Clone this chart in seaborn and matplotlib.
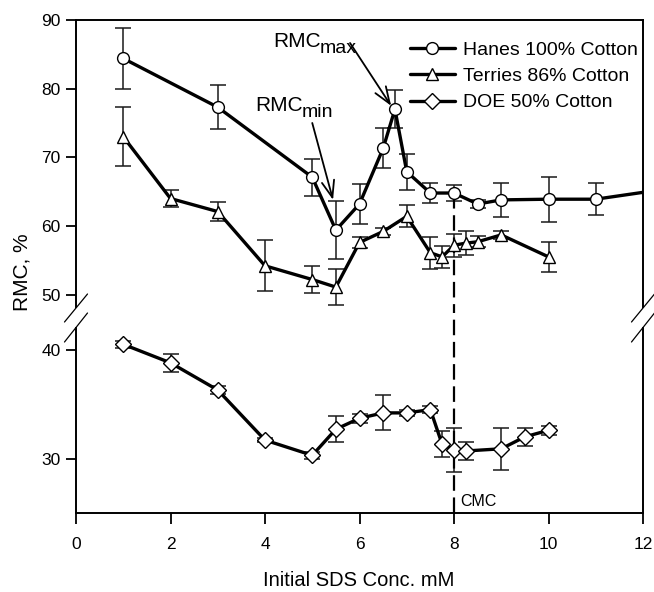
import matplotlib
matplotlib.use("Agg")
import matplotlib.pyplot as plt
import seaborn as sns
import pandas as pd
from matplotlib.lines import Line2D

# ---------------- data ----------------
hanes_x = [1, 3, 5, 5.5, 6, 6.5, 6.75, 7, 7.5, 8, 8.5, 9, 10, 11, 12]
hanes_y = [84.4, 77.3, 67.1, 59.4, 63.2, 71.3, 77.0, 67.9, 64.8, 64.8, 63.2, 63.8, 63.9, 63.9, 64.9]
hanes_err = [4.5, 3.2, 2.7, 4.2, 2.9, 2.9, 2.8, 2.6, 1.4, 1.2, 0.6, 2.5, 3.3, 2.3]

terries_x = [1, 2, 3, 4, 5, 5.5, 6, 6.5, 7, 7.5, 7.75, 8, 8.25, 8.5, 9, 10]
terries_y = [73.0, 64.0, 62.1, 54.2, 52.2, 51.1, 57.6, 59.2, 61.4, 56.1, 55.5, 57.2, 57.5, 57.7, 58.7, 55.5]
terries_err = [4.3, 1.2, 1.4, 3.7, 2.0, 2.6, 0.8, 0.5, 1.6, 2.3, 1.6, 1.7, 1.7, 0.8, 0.6, 2.2]

doe_x = [1, 2, 3, 4, 5, 5.5, 6, 6.5, 7, 7.5, 7.75, 8, 8.25, 9, 9.5, 10]
doe_y = [40.5, 38.8, 36.3, 31.7, 30.3, 32.7, 33.7, 34.2, 34.2, 34.5, 31.3, 30.8, 30.7, 30.9, 32.0, 32.6]
doe_err = [0.3, 0.8, 0.4, 0.2, 0.3, 1.2, 0.4, 1.6, 0.3, 0.3, 1.2, 2.0, 0.8, 1.95, 0.8, 0.4]

labels = ["Hanes 100% Cotton", "Terries 86% Cotton", "DOE 50% Cotton"]
CMC = 8
x_ticks = [0, 2, 4, 6, 8, 10, 12]
upper_ticks = [50, 60, 70, 80, 90]
lower_ticks = [30, 40]

# ---------------- style ----------------
sns.set_theme(style="ticks")
plt.rcParams["font.family"] = ["Liberation Sans", "DejaVu Sans"]
plt.rcParams["axes.linewidth"] = 1.4
plt.rcParams["text.color"] = "black"

W, H = 654, 592
fig = plt.figure(figsize=(W / 100, H / 100), dpi=100)


def rect(l, t, r, b):
    return [l / W, 1 - b / H, (r - l) / W, (b - t) / H]


ax_top = fig.add_axes(rect(76, 20, 643, 307))
ax_bot = fig.add_axes(rect(76, 328, 643, 513))

LW = 2.4
MS = 8.5
common = dict(color="black", lw=LW, mfc="white", mec="black", mew=1.0,
              estimator=None, sort=False, legend=False)
ebar = dict(fmt="none", ecolor="#1a1a1a", elinewidth=1.1, capsize=5.5, capthick=1.1, zorder=1)

# Hanes (line runs to the right edge; last point has no marker)
dfh = pd.DataFrame({"x": hanes_x, "y": hanes_y})
sns.lineplot(data=dfh, x="x", y="y", ax=ax_top, marker="o", ms=MS,
             markevery=slice(0, len(hanes_x) - 1), zorder=3, **common)
ax_top.errorbar(hanes_x[:len(hanes_err)], hanes_y[:len(hanes_err)], yerr=hanes_err, **ebar)

dft = pd.DataFrame({"x": terries_x, "y": terries_y})
sns.lineplot(data=dft, x="x", y="y", ax=ax_top, marker="^", ms=MS + 0.5, zorder=3, **common)
ax_top.errorbar(terries_x, terries_y, yerr=terries_err, **ebar)

dfd = pd.DataFrame({"x": doe_x, "y": doe_y})
sns.lineplot(data=dfd, x="x", y="y", ax=ax_bot, marker="D", ms=MS - 0.3, zorder=3, **common)
ax_bot.errorbar(doe_x, doe_y, yerr=doe_err, **ebar)

# limits / ticks
for ax in (ax_top, ax_bot):
    ax.set_xlim(0, 12)
    ax.set_xlabel("")
    ax.set_ylabel("")
    ax.set_facecolor("white")
    for s in ax.spines.values():
        s.set_color("black")
        s.set_linewidth(1.4)
ax_top.set_ylim(48.2, 90)
ax_bot.set_ylim(25, 42)
ax_top.set_yticks(upper_ticks)
ax_bot.set_yticks(lower_ticks)
ax_bot.set_xticks(x_ticks)
ax_top.spines["bottom"].set_visible(False)
ax_bot.spines["top"].set_visible(False)
ax_top.tick_params(axis="x", bottom=False, labelbottom=False)
for ax in (ax_top, ax_bot):
    ax.tick_params(axis="y", direction="out", length=7, width=1.3, labelsize=12.5, pad=4,
                   colors="black", right=False)
ax_bot.tick_params(axis="x", direction="out", length=8, width=1.3, labelsize=12.5, pad=9,
                   colors="black")

# CMC dashed line (spans the gap between the two panels)
hanes_cmc = hanes_y[hanes_x.index(CMC)]
ax_top.plot([CMC, CMC], [hanes_cmc, 48.2], color="black", lw=1.6, ls=(0, (7, 3)), zorder=2)
gap_px = 328 - 307
bot_h = 513 - 328
ax_bot.axvline(CMC, ymin=0, ymax=1 + gap_px / bot_h, color="black", lw=1.6,
               ls=(0, (7, 3)), clip_on=False, zorder=2)
ax_bot.text(CMC + 0.14, 25.6, "CMC", fontsize=11.5, va="baseline", ha="left", color="black")

# axis break marks
top_h = 307 - 20
ax_w = 643 - 76
for xs in (0, 1):
    ax_top.plot([xs - 11.5 / ax_w, xs + 11.5 / ax_w], [-15 / top_h, 13 / top_h],
                transform=ax_top.transAxes, color="black", lw=0.9, clip_on=False)
    ax_bot.plot([xs - 11.5 / ax_w, xs + 11.5 / ax_w], [1 - 14 / bot_h, 1 + 15 / bot_h],
                transform=ax_bot.transAxes, color="black", lw=0.9, clip_on=False)

# annotations
arrow = dict(arrowstyle="->,head_length=0.8,head_width=0.3", color="black",
             lw=1.3, shrinkA=0, shrinkB=0, mutation_scale=15)
t1 = ax_top.text(4.17, 86.07, "RMC", fontsize=15, va="baseline", ha="left", color="black")
ax_top.annotate("max", xy=(1, 0), xycoords=t1, xytext=(-0.5, -4.3), textcoords="offset points",
                va="bottom", ha="left", fontsize=14, color="black")
ax_top.annotate("", xy=(6.67, 77.5), xytext=(5.8, 86.65), arrowprops=arrow)
t2 = ax_top.text(3.79, 76.76, "RMC", fontsize=15, va="baseline", ha="left", color="black")
ax_top.annotate("min", xy=(1, 0), xycoords=t2, xytext=(-0.5, -4.3), textcoords="offset points",
                va="bottom", ha="left", fontsize=14, color="black")
ax_top.annotate("", xy=(5.44, 63.8), xytext=(5.0, 75.0), arrowprops=arrow)

# legend
mk = ["o", "^", "D"]
msz = [MS, MS + 0.5, MS - 0.3]
handles = [Line2D([], [], color="black", lw=LW, marker=m, ms=s, mfc="white", mec="black", mew=1.0)
           for m, s in zip(mk, msz)]
leg = fig.legend(handles, labels, loc="upper left", bbox_to_anchor=(410 / W, 1 - 41 / H),
                 frameon=False, fontsize=14, handlelength=2.3, handletextpad=0.45,
                 labelspacing=0.45, borderpad=0, borderaxespad=0)
for t in leg.get_texts():
    t.set_color("black")

# axis titles
fig.text(22 / W, 1 - 272 / H, "RMC, %", rotation=90, ha="center", va="center", fontsize=15)
fig.text(359 / W, 1 - 580 / H, "Initial SDS Conc. mM", ha="center", va="center", fontsize=14.5)

fig.savefig("out.png", dpi=100, facecolor="white")
